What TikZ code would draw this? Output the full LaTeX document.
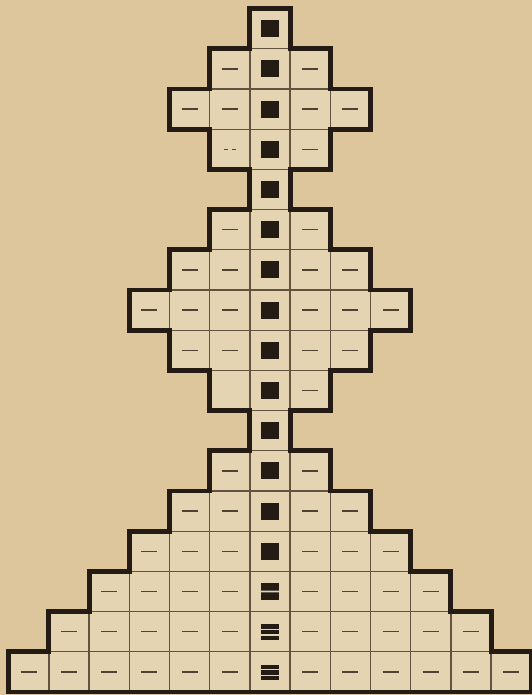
\documentclass[tikz,border=0pt]{standalone}
\definecolor{paper}{RGB}{221,198,156}
\definecolor{cellbg}{RGB}{229,212,178}
\definecolor{ink}{RGB}{36,27,21}
\definecolor{rule}{RGB}{98,83,64}

\begin{document}
\begin{tikzpicture}[x=1cm,y=1cm]
\useasboundingbox[fill=paper] (-6.716,-.075) rectangle (6.518,17.214);
% rows from the top, \w = cells on each side of the middle
\foreach \w [count=\r] in {0,1,2,1,0,1,2,3,2,1,0,1,2,3,4,5,6}{
\pgfmathtruncatemacro\y{17-\r}
\fill[cellbg] (-\w-.5,\y) rectangle (\w+.5,\y+1);
\foreach \i in {-\w,...,\w}{
\draw[rule,line width=.9pt] (\i-.5,\y) rectangle (\i+.5,\y+1);
\pgfmathtruncatemacro\nodash{(\r==4 || \r==10) && \i==-1}
\ifnum\i=0
 \ifnum\r<15 \fill[ink] (-.22,\y+.29) rectangle (.22,\y+.71);
 \else\ifnum\r=15
  \fill[ink] (-.22,\y+.29) rectangle (.22,\y+.48) (-.22,\y+.52) rectangle (.22,\y+.71);
 \else
  \foreach \b in {.29,.43,.57}{\fill[ink] (-.22,\y+\b) rectangle (.22,\y+\b+.11);}
 \fi\fi
\else\ifnum\nodash=0
 \draw[rule!70!ink,line width=1pt] (\i-.2,\y+.5)--(\i+.2,\y+.5);
\fi\fi}}
\draw[rule!70!ink,line width=1pt] (-1.15,13.5)--(-1.05,13.5) (-.95,13.5)--(-.85,13.5);
% thick outline, right half then mirrored
\foreach \sx in {1,-1}
\draw[ink,line width=3.5pt,xscale=\sx] (0,17)
 \foreach \w [count=\r] in {0,1,2,1,0,1,2,3,2,1,0,1,2,3,4,5,6}{--(\w+.5,18-\r)--(\w+.5,17-\r)}--(0,0);
\end{tikzpicture}
\end{document}
